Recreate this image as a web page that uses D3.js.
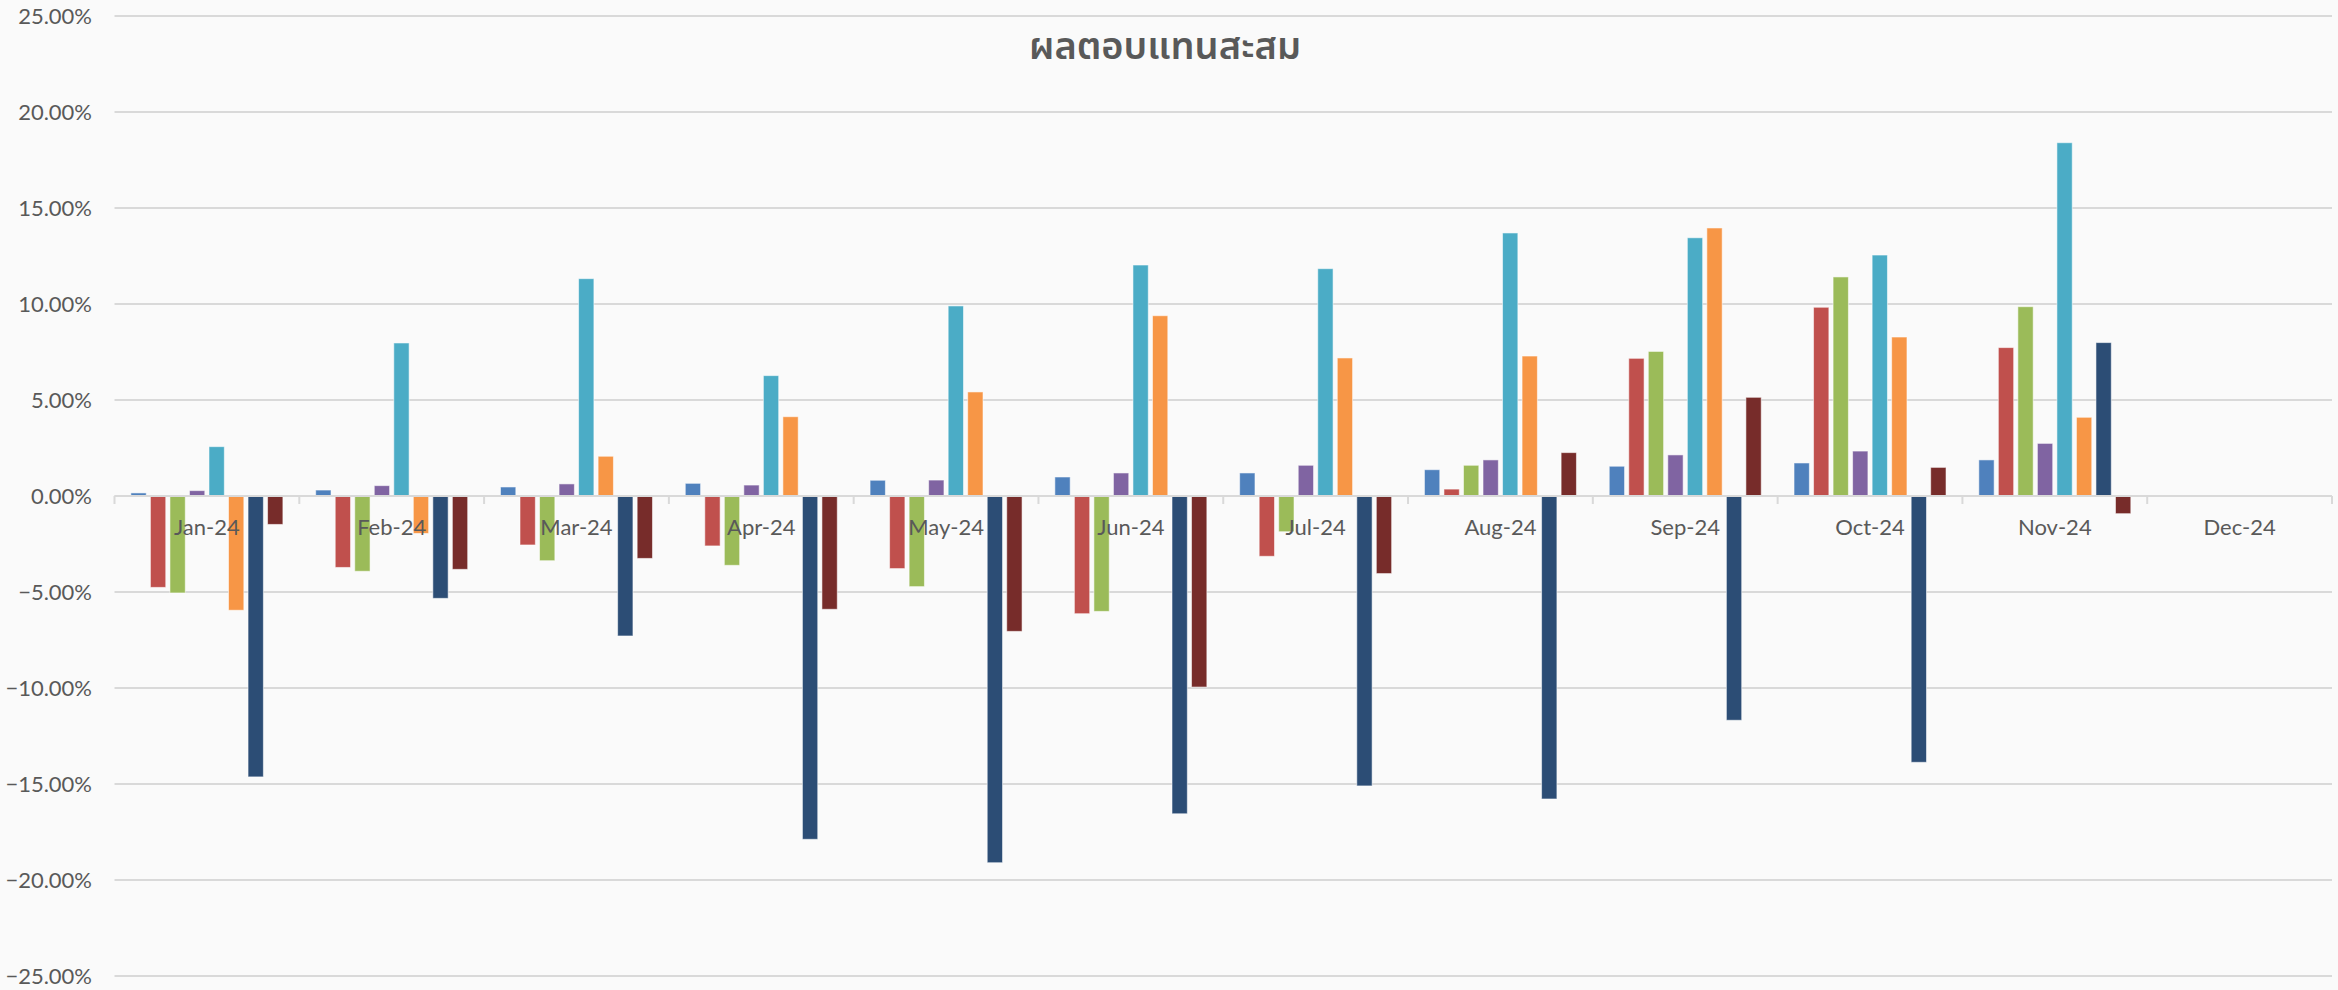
<!DOCTYPE html>
<html>
<head>
<meta charset="utf-8">
<script src="https://cdn.jsdelivr.net/npm/d3@7"></script>
<style>
  html, body { margin: 0; padding: 0; background: #FAFAFA; }
  svg { display: block; }
</style>
</head>
<body>
<svg id="chart" width="2338" height="990"></svg>
<script>
// ---- data ----
const title = "ผลตอบแทนสะสม";
const categories = ["Jan-24","Feb-24","Mar-24","Apr-24","May-24","Jun-24","Jul-24","Aug-24","Sep-24","Oct-24","Nov-24","Dec-24"];
const seriesNames = ["Series 1","Series 2","Series 3","Series 4","Series 5","Series 6","Series 7","Series 8"];
const seriesColors = ["#4F81BD","#C0504D","#9BBB59","#8064A2","#4BACC6","#F79646","#2C4D75","#772C2A"];
const s1 = [0.16, 0.31, 0.47, 0.66, 0.82, 0.99, 1.20, 1.37, 1.55, 1.72, 1.88, null];
const s2 = [-4.76, -3.72, -2.55, -2.60, -3.78, -6.13, -3.14, 0.36, 7.17, 9.83, 7.73, null];
const s3 = [-5.05, -3.92, -3.37, -3.61, -4.72, -6.01, -1.86, 1.60, 7.53, 11.41, 9.86, null];
const s4 = [0.28, 0.54, 0.63, 0.57, 0.83, 1.20, 1.60, 1.88, 2.14, 2.34, 2.74, null];
const s5 = [2.57, 7.97, 11.32, 6.27, 9.90, 12.03, 11.84, 13.70, 13.45, 12.55, 18.40, null];
const s6 = [-5.95, -1.95, 2.07, 4.13, 5.42, 9.39, 7.19, 7.29, 13.96, 8.28, 4.10, null];
const s7 = [-14.63, -5.33, -7.29, -17.88, -19.10, -16.55, -15.10, -15.78, -11.68, -13.87, 7.99, null];
const s8 = [-1.48, -3.82, -3.25, -5.90, -7.05, -9.95, -4.04, 2.26, 5.14, 1.49, -0.92, null];
const seriesValues = [s1, s2, s3, s4, s5, s6, s7, s8];
const yTicks = [-25, -20, -15, -10, -5, 0, 5, 10, 15, 20, 25];

// ---- layout ----
const W = 2338, H = 990;
const plot = { left: 114.5, right: 2332, top: 16, bottom: 976 };
const svg = d3.select("#chart");
svg.append("rect").attr("width", W).attr("height", H).attr("fill", "#FAFAFA");

const x0 = d3.scaleBand().domain(categories).range([plot.left, plot.right]).paddingInner(0).paddingOuter(0);
const x1 = d3.scaleBand().domain(d3.range(seriesNames.length)).range([0, x0.bandwidth()]).paddingInner(0.215).paddingOuter(0.84);
const y = d3.scaleLinear().domain([-25, 25]).range([plot.bottom, plot.top]);

const axisFont = "Lato, 'Open Sans', 'Liberation Sans', sans-serif";
const textColor = "#595959";

// gridlines
svg.append("g").selectAll("line").data(yTicks).join("line")
  .attr("x1", plot.left).attr("x2", plot.right)
  .attr("y1", d => y(d)).attr("y2", d => y(d))
  .attr("stroke", "#D9D9D9").attr("stroke-width", 2);

// y labels
svg.append("g").selectAll("text").data(yTicks).join("text")
  .attr("x", 92).attr("y", d => y(d))
  .attr("dy", "0.35em")
  .attr("text-anchor", "end")
  .attr("font-family", axisFont).attr("font-size", 22)
  .attr("fill", textColor)
  .text(d => d3.format(".2f")(d) + "%");

// bars
const groups = svg.append("g").selectAll("g").data(categories).join("g")
  .attr("transform", d => `translate(${x0(d)},0)`);
groups.selectAll("rect")
  .data((c, ci) => seriesValues.map((vals, si) => ({ si, v: vals[ci] })).filter(d => d.v !== null))
  .join("rect")
  .attr("x", d => x1(d.si))
  .attr("width", x1.bandwidth())
  .attr("y", d => y(Math.max(0, d.v)))
  .attr("height", d => Math.abs(y(d.v) - y(0)))
  .attr("fill", d => seriesColors[d.si])
  .attr("stroke", "#ffffff").attr("stroke-opacity", 0.55).attr("stroke-width", 1);

// zero axis line with ticks
svg.append("line")
  .attr("x1", plot.left).attr("x2", plot.right)
  .attr("y1", y(0)).attr("y2", y(0))
  .attr("stroke", "#D9D9D9").attr("stroke-width", 2);
const tickPos = categories.map(c => x0(c)).concat([x0(categories[categories.length - 1]) + x0.bandwidth()]);
svg.append("g").selectAll("line").data(tickPos).join("line")
  .attr("x1", d => d).attr("x2", d => d)
  .attr("y1", y(0)).attr("y2", y(0) + 8)
  .attr("stroke", "#D9D9D9").attr("stroke-width", 2);

// x labels
svg.append("g").selectAll("text").data(categories).join("text")
  .attr("x", d => x0(d) + x0.bandwidth() / 2)
  .attr("y", 535)
  .attr("text-anchor", "middle")
  .attr("font-family", axisFont).attr("font-size", 22)
  .attr("fill", textColor)
  .text(d => d);

// title
svg.append("text")
  .attr("x", 1165).attr("y", 59)
  .attr("text-anchor", "middle")
  .attr("font-family", "'Noto Sans Thai', 'Noto Sans', 'Leelawadee UI', sans-serif")
  .attr("font-size", 38)
  .attr("font-weight", 600)
  .attr("fill", textColor)
  .text(title);
</script>
</body>
</html>
